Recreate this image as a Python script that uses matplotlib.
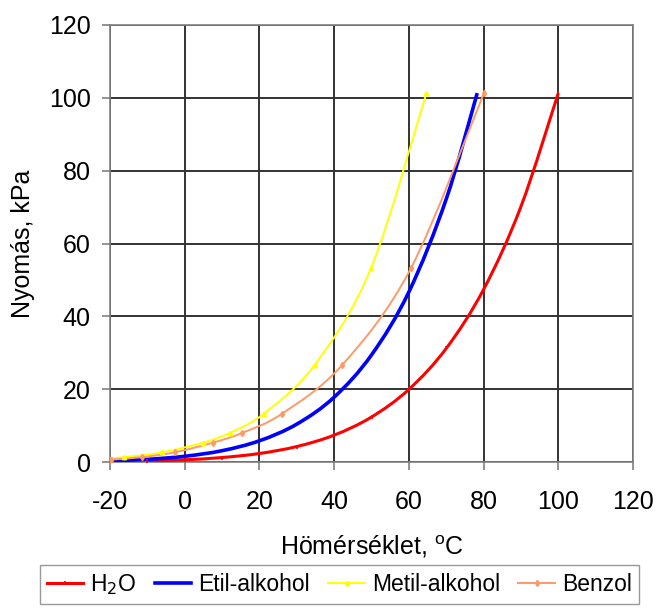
import numpy as np
import matplotlib
matplotlib.use("Agg")
import matplotlib.pyplot as plt
from matplotlib.path import Path
from matplotlib.patches import PathPatch
from matplotlib.lines import Line2D

plt.rcParams['font.family'] = ['Liberation Sans', 'DejaVu Sans']
plt.rcParams['axes.unicode_minus'] = False

# vapour pressure data, temperature in C, pressure in kPa
h2o_t = [-10, 0, 10, 20, 30, 40, 50, 60, 70, 80, 90, 100]
h2o_p = [0.26, 0.61, 1.23, 2.34, 4.25, 7.38, 12.35, 19.94, 31.19, 47.39, 70.14, 101.3]

etil_t = [-20, -10, 0, 10, 20, 30, 40, 50, 60, 70, 78.3]
etil_p = [0.33, 0.74, 1.57, 3.11, 5.83, 10.4, 17.8, 29.4, 46.7, 72.2, 101.3]

metil_t = [-25.3, -16.2, -6.0, 5.0, 12.1, 21.2, 34.8, 49.9, 64.7]
metil_p = [0.67, 1.33, 2.67, 5.33, 8.0, 13.3, 26.7, 53.3, 101.3]

benzol_t = [-19.6, -11.5, -2.6, 7.6, 15.4, 26.1, 42.2, 60.6, 80.1]
benzol_p = [0.67, 1.33, 2.67, 5.33, 8.0, 13.3, 26.7, 53.3, 101.3]


def smooth_path(x, y):
    # excel style smoothed line: bezier segments through the points
    pts = np.column_stack([x, y]).astype(float)
    verts = [pts[0]]
    codes = [Path.MOVETO]
    n = len(pts)
    for i in range(n - 1):
        p0 = pts[i - 1] if i > 0 else pts[i]
        p1 = pts[i]
        p2 = pts[i + 1]
        p3 = pts[i + 2] if i + 2 < n else pts[i + 1]
        c1 = p1 + (p2 - p0) / 6.0
        c2 = p2 - (p3 - p1) / 6.0
        verts += [c1, c2, p2]
        codes += [Path.CURVE4] * 3
    return Path(verts, codes)


fig = plt.figure(figsize=(6.65, 6.08), dpi=100)
ax = fig.add_axes([0.1654, 0.2401, 0.7865, 0.7188])

series = [
    (h2o_t, h2o_p, '#ff0000', 2.2, '|', 'H$_2$O'),
    (etil_t, etil_p, '#0000ff', 2.6, None, 'Etil-alkohol'),
    (metil_t, metil_p, '#ffff00', 1.4, '^', 'Metil-alkohol'),
    (benzol_t, benzol_p, '#ff9966', 1.4, 'd', 'Benzol'),
]
handles = []
for t, p, col, lw, mk, lab in series:
    ax.add_patch(PathPatch(smooth_path(t, p), fill=False, edgecolor=col, lw=lw, zorder=3))
    if mk:
        ax.plot(t, p, ls='none', marker=mk, ms=3, mew=1.2, color=col, zorder=4)
    handles.append(Line2D([], [], color=col, lw=lw, marker=mk, ms=3, mew=1.2, label=lab))

ax.set_xlim(-20, 120)
ax.set_ylim(0, 120)
ax.set_xticks(range(-20, 121, 20))
ax.set_yticks(range(0, 121, 20))
ax.grid(True, color='#333333', lw=1.4)
ax.set_axisbelow(True)
for s in ax.spines.values():
    s.set_color('#808080')
    s.set_linewidth(1.2)
ax.tick_params(axis='both', labelsize=18, colors='#808080', labelcolor='black', length=6, width=1.2)
ax.tick_params(axis='x', pad=14)
ax.tick_params(axis='y', pad=8)

ax.set_xlabel('Hömérséklet, $^{\\mathregular{o}}$C', fontsize=18, labelpad=14)
ax.set_ylabel('Nyomás, kPa', fontsize=18, labelpad=10)

fig.legend(handles=handles, loc='lower center', bbox_to_anchor=(0.51, -0.012), ncol=4, fontsize=16.5,
           frameon=True, fancybox=False, edgecolor='#808080', handlelength=1.6,
           handletextpad=0.3, columnspacing=0.8, borderpad=0.3)

fig.savefig('out.png', dpi=100)
